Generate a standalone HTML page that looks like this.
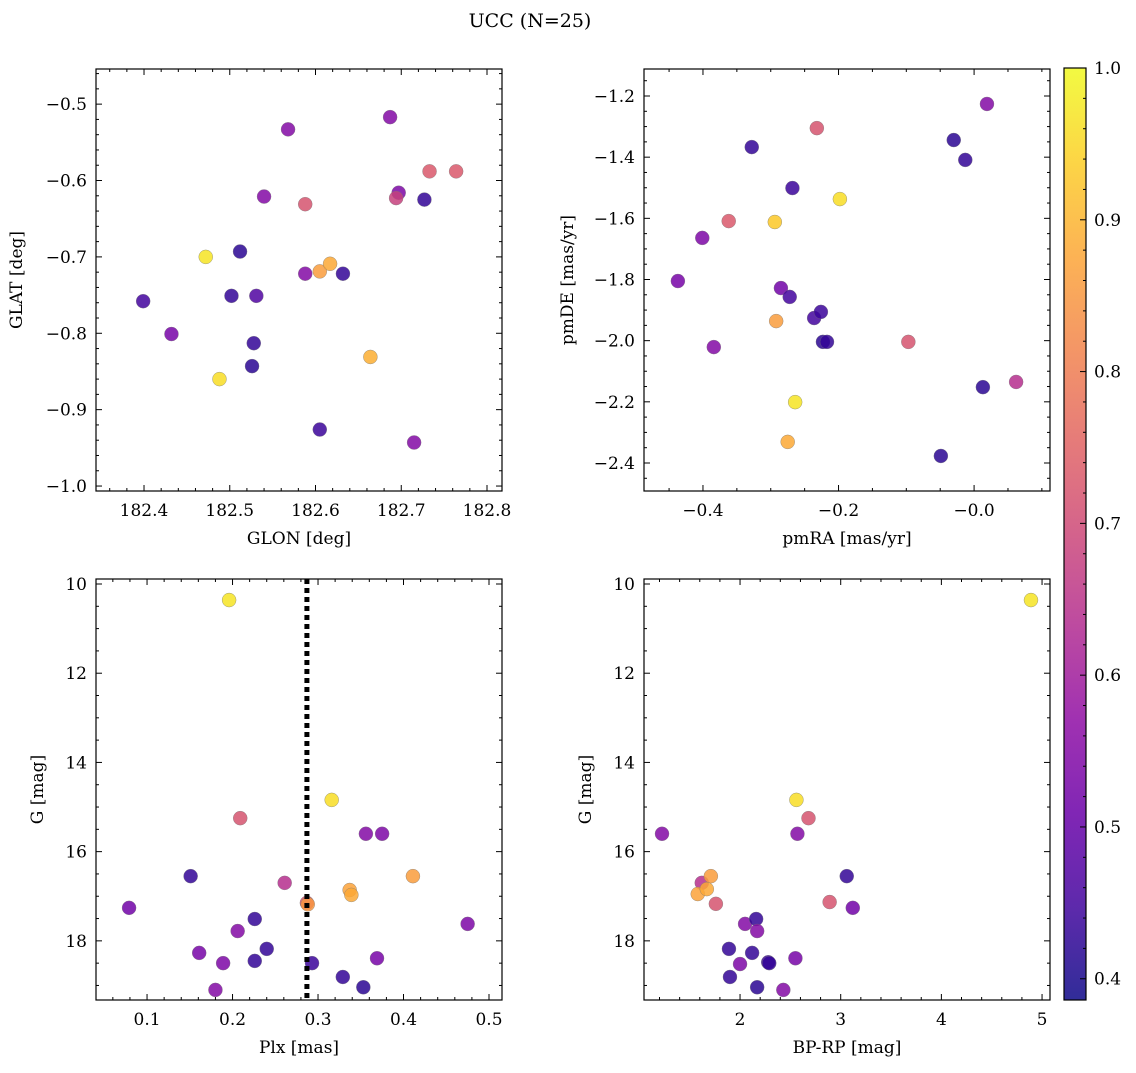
<!DOCTYPE html>
<html><head><meta charset="utf-8">
<style>
body{margin:0;background:#fff;}
svg text{font-family:"DejaVu Serif","Liberation Serif",serif;fill:#000;}
</style></head>
<body>
<svg id="fig" width="1136" height="1068" xmlns="http://www.w3.org/2000/svg">
<text x="530" y="27" font-size="19" text-anchor="middle">UCC (N=25)</text>
</svg>
<script>
// Panel 1: GLON / GLAT
const p1X=[182.399,182.432,182.472,182.488,182.502,182.512,182.528,182.526,182.531,182.540,182.568,182.588,182.588,182.605,182.617,182.605,182.632,182.664,182.687,182.697,182.694,182.715,182.727,182.733,182.764];
const p1Y=[-0.758,-0.801,-0.700,-0.860,-0.751,-0.693,-0.813,-0.843,-0.751,-0.621,-0.533,-0.631,-0.722,-0.719,-0.709,-0.926,-0.722,-0.831,-0.517,-0.616,-0.623,-0.943,-0.625,-0.588,-0.588];
const p1C=[0.45,0.53,0.97,0.96,0.43,0.42,0.43,0.42,0.47,0.55,0.55,0.72,0.55,0.86,0.88,0.44,0.43,0.89,0.55,0.54,0.68,0.55,0.43,0.73,0.73];
// Panel 2: pmRA / pmDE
const p2X=[-0.437,-0.401,-0.384,-0.362,-0.328,-0.294,-0.292,-0.285,-0.275,-0.272,-0.268,-0.264,-0.236,-0.226,-0.223,-0.217,-0.198,-0.232,-0.097,-0.049,-0.030,-0.013,0.013,0.019,0.062];
const p2Y=[-1.805,-1.664,-2.021,-1.609,-1.367,-1.612,-1.936,-1.828,-2.331,-1.857,-1.501,-2.201,-1.926,-1.906,-2.004,-2.004,-1.537,-1.305,-2.004,-2.377,-1.344,-1.409,-2.152,-1.226,-2.135];
const p2C=[0.53,0.54,0.55,0.73,0.43,0.93,0.86,0.52,0.88,0.45,0.44,0.97,0.45,0.44,0.42,0.43,0.96,0.72,0.72,0.42,0.42,0.43,0.42,0.55,0.64];
// Panel 3: Plx / G
const p3X=[0.079,0.151,0.161,0.180,0.189,0.196,0.206,0.209,0.226,0.226,0.240,0.261,0.287,0.288,0.293,0.316,0.329,0.337,0.339,0.353,0.356,0.369,0.375,0.411,0.475];
const p3Y=[17.26,16.55,18.27,19.10,18.50,10.36,17.78,15.25,17.51,18.45,18.18,16.70,17.15,17.18,18.50,14.84,18.81,16.86,16.97,19.04,15.60,18.39,15.60,16.55,17.62];
const p3C=[0.52,0.43,0.53,0.55,0.54,0.97,0.55,0.72,0.43,0.43,0.43,0.64,0.72,0.85,0.44,0.96,0.43,0.87,0.88,0.42,0.55,0.53,0.54,0.86,0.54];
// Panel 4: BP-RP / G
const p4X=[1.225,1.62,1.71,1.76,1.58,1.67,1.89,1.90,2.00,2.05,2.12,2.16,2.17,2.17,2.28,2.29,2.43,2.55,2.57,2.56,2.68,2.89,3.06,3.12,4.89];
const p4Y=[15.60,16.70,16.55,17.17,16.95,16.84,18.18,18.81,18.52,17.62,18.27,17.51,17.78,19.04,18.48,18.50,19.10,18.39,15.60,14.84,15.25,17.13,16.55,17.26,10.36];
const p4C=[0.55,0.64,0.86,0.72,0.87,0.88,0.43,0.43,0.54,0.55,0.43,0.43,0.55,0.42,0.44,0.43,0.55,0.53,0.55,0.96,0.72,0.72,0.43,0.52,0.97];
const plxLine=[0.287];
const cbTicks=[0.4,0.5,0.6,0.7,0.8,0.9,1.0];

const NS="http://www.w3.org/2000/svg";
const svg=document.getElementById('fig');
const CMIN=0.386,CMAX=1.0;
const stops=[[13,8,135],[65,4,157],[106,0,168],[143,13,164],[177,42,144],[204,71,120],[225,100,98],[242,132,75],[252,166,54],[252,206,37],[240,249,33]];
function plasma(t){t=Math.max(0,Math.min(1,t));const f=t*10,i=Math.min(9,Math.floor(f)),r=f-i;const a=stops[i],b=stops[i+1];
return 'rgb('+a.map((v,k)=>Math.round(v+(b[k]-v)*r)).join(',')+')';}
function cval(v){return plasma((v-CMIN)/(CMAX-CMIN));}
function el(tag,attrs,parent){const e=document.createElementNS(NS,tag);for(const k in attrs)e.setAttribute(k,attrs[k]);(parent||svg).appendChild(e);return e;}
function fmt(v,d){let s=v.toFixed(d);if(s.startsWith('-'))s='\u2212'+s.slice(1);return s;}
const FS=17;

function panel(o){
  const g=el('g',{});
  
  
  const sx=v=>o.L+(v-o.x0)/(o.x1-o.x0)*(o.R-o.L);
  const sy=v=>o.inv? o.T+(v-o.y0)/(o.y1-o.y0)*(o.B-o.T) : o.B-(v-o.y0)/(o.y1-o.y0)*(o.B-o.T);
  for(let i=0;i<o.X.length;i++){
    const c=el('circle',{cx:sx(o.X[i]),cy:sy(o.Y[i]),r:7,fill:cval(o.C[i]),'fill-opacity':0.85,stroke:'#777','stroke-width':0.5,'stroke-opacity':0.7},g);
    
    
  }
  if(o.vline){for(const v of o.vline){const l=el('line',{x1:sx(v),x2:sx(v),y1:o.T,y2:o.B,stroke:'#000','stroke-width':5,'stroke-dasharray':'5,4'},g);
    
    }}
  el('rect',{x:o.L,y:o.T,width:o.R-o.L,height:o.B-o.T,fill:'none',stroke:'#000','stroke-width':1.2},g);
  const eps=1e-9;
  for(let v=Math.ceil(o.x0/o.xmin-eps)*o.xmin;v<=o.x1+eps;v+=o.xmin){
    const x=sx(v);const major=Math.abs(v/o.xmaj-Math.round(v/o.xmaj))<1e-4;const len=major?6:3;
    el('line',{x1:x,x2:x,y1:o.B,y2:o.B-len,stroke:'#000','stroke-width':1},g);
    el('line',{x1:x,x2:x,y1:o.T,y2:o.T+len,stroke:'#000','stroke-width':1},g);
    if(major){const t=el('text',{x:x,y:o.B+25,'font-size':FS,'text-anchor':'middle'},g);t.textContent=fmt(v,o.xd);
      }
  }
  const ylo=Math.min(o.y0,o.y1),yhi=Math.max(o.y0,o.y1);
  for(let v=Math.ceil(ylo/o.ymin-eps)*o.ymin;v<=yhi+eps;v+=o.ymin){
    const y=sy(v);const major=Math.abs(v/o.ymaj-Math.round(v/o.ymaj))<1e-4;const len=major?6:3;
    el('line',{x1:o.L,x2:o.L+len,y1:y,y2:y,stroke:'#000','stroke-width':1},g);
    el('line',{x1:o.R,x2:o.R-len,y1:y,y2:y,stroke:'#000','stroke-width':1},g);
    if(major){const t=el('text',{x:o.L-9,y:y+6,'font-size':FS,'text-anchor':'end'},g);t.textContent=fmt(v,o.yd);
      }
  }
  const xl=el('text',{x:(o.L+o.R)/2,y:o.B+53,'font-size':FS,'text-anchor':'middle'},g);xl.textContent=o.xlab;
  
  const yl=el('text',{x:0,y:0,'font-size':FS,'text-anchor':'middle',transform:'translate('+o.ylx+','+(o.T+o.B)/2+') rotate(-90)'},g);yl.textContent=o.ylab;
  
}
panel({name:'glon-glat-panel',L:96,R:502,T:69,B:491,x0:182.344,x1:182.8175,y0:-1.0065,y1:-0.454,X:p1X,Y:p1Y,C:p1C,xmaj:0.1,xmin:0.02,ymaj:0.1,ymin:0.02,xd:1,yd:1,xlab:'GLON [deg]',ylab:'GLAT [deg]',ylx:22});
panel({name:'pm-panel',L:644,R:1050,T:69,B:491,x0:-0.487,x1:0.112,y0:-2.4916,y1:-1.1117,X:p2X,Y:p2Y,C:p2C,xmaj:0.2,xmin:0.05,ymaj:0.2,ymin:0.05,xd:1,yd:1,xlab:'pmRA [mas/yr]',ylab:'pmDE [mas/yr]',ylx:573});
panel({name:'plx-g-panel',L:96,R:502,T:579,B:1000,x0:0.0403,x1:0.5152,y0:9.888,y1:19.326,inv:true,X:p3X,Y:p3Y,C:p3C,xmaj:0.1,xmin:0.02,ymaj:2,ymin:0.5,xd:1,yd:0,xlab:'Plx [mas]',ylab:'G [mag]',ylx:43,vline:plxLine});
panel({name:'cmd-panel',L:644,R:1050,T:579,B:1000,x0:1.046,x1:5.079,y0:9.888,y1:19.326,inv:true,X:p4X,Y:p4Y,C:p4C,xmaj:1,xmin:0.2,ymaj:2,ymin:0.5,xd:0,yd:0,xlab:'BP-RP [mag]',ylab:'G [mag]',ylx:591});

(function(){
  const L=1064,R=1086,T=68,B=1000;
  const g=el('g',{});
  
  
  const defs=el('defs',{},g);
  const lg=el('linearGradient',{id:'cbg',x1:0,y1:1,x2:0,y2:0},defs);
  for(let i=0;i<=20;i++){el('stop',{offset:i/20,'stop-color':plasma(i/20)},lg);}
  el('rect',{x:L,y:T,width:R-L,height:B-T,fill:'url(#cbg)','fill-opacity':0.85},g);
  el('rect',{x:L,y:T,width:R-L,height:B-T,fill:'none',stroke:'#000','stroke-width':1.2},g);
  const sy=v=>B-(v-CMIN)/(CMAX-CMIN)*(B-T);
  for(let v=0.4;v<=1.0+1e-9;v+=0.02){const y=sy(v);const major=Math.abs(v*10-Math.round(v*10))<1e-4;
    el('line',{x1:R,x2:R-(major?6:3),y1:y,y2:y,stroke:'#000','stroke-width':1},g);}
  for(const v of cbTicks){const t=el('text',{x:R+8,y:sy(v)+6,'font-size':FS},g);t.textContent=v.toFixed(1);
    }
})();
</script>
</body></html>
